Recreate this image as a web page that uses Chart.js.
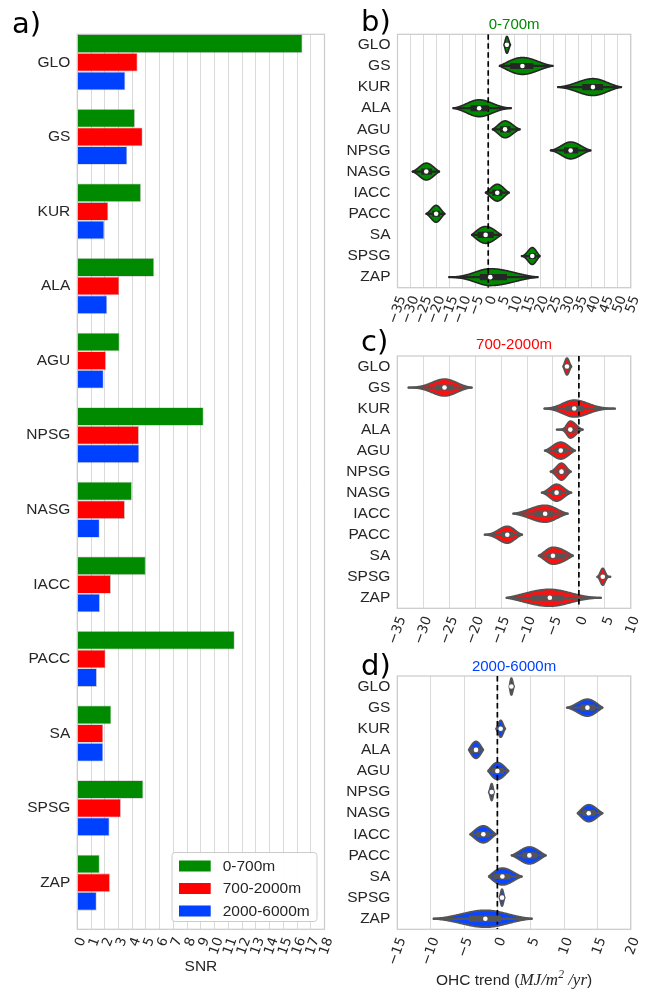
<!DOCTYPE html>
<html><head><meta charset="utf-8">
<script src="https://cdn.jsdelivr.net/npm/chart.js@4.4.0/dist/chart.umd.min.js"></script>
<style>
html,body{margin:0;padding:0;background:#fff;}
#wrap{position:relative;width:652px;height:991px;background:#fff;}
#wrap canvas{position:absolute;left:0;top:0;}
</style></head><body>
<div id="wrap">
<canvas id="ca" width="652" height="991"></canvas>
<canvas id="cb" width="652" height="991"></canvas>
<canvas id="cc" width="652" height="991"></canvas>
<canvas id="cd" width="652" height="991"></canvas>
</div>
<script>
// ---------------- DATA ----------------
const regions = ['GLO','GS','KUR','ALA','AGU','NPSG','NASG','IACC','PACC','SA','SPSG','ZAP'];
const layerNames = ['0-700m','700-2000m','2000-6000m'];

// panel a: SNR per region
const snr_0_700     = [16.4, 4.2, 4.64, 5.6, 3.08, 9.2, 3.98, 4.98, 11.46, 2.48, 4.81, 1.63];
const snr_700_2000  = [4.39, 4.76, 2.26, 3.06, 2.09, 4.49, 3.47, 2.45, 2.06, 1.89, 3.18, 2.38];
const snr_2000_6000 = [3.5, 3.64, 1.97, 2.18, 1.92, 4.51, 1.63, 1.65, 1.43, 1.89, 2.35, 1.41];
const snrTicks = [0,1,2,3,4,5,6,7,8,9,10,11,12,13,14,15,16,17,18];

// panel b: OHC trend 0-700m (violin summary: low end, Q1, median, Q3, high end)
const b_lo  = [6.1, 4.3, 26.8, -13.6, 1.6, 24.0, -29.3, -1.1, -24.0, -6.4, 12.8, -15.2];
const b_q1  = [6.7, 8.6, 36.4, -6.7, 4.7, 29.4, -25.7, 1.7, -21.4, -4.0, 15.9, -3.1];
const b_med = [7.2, 13.2, 40.4, -3.5, 6.5, 31.8, -23.9, 3.5, -20.1, -1.0, 17.0, 0.8];
const b_q3  = [7.7, 17.3, 44.2, -0.1, 8.5, 34.6, -21.8, 5.3, -18.8, 2.0, 18.2, 7.1];
const b_hi  = [8.6, 25.0, 51.4, 8.9, 12.3, 39.6, -18.8, 8.1, -16.7, 5.1, 20.0, 19.2];
const bTicks = [-35,-30,-25,-20,-15,-10,-5,0,5,10,15,20,25,30,35,40,45,50,55];

// panel c: OHC trend 700-2000m
const c_lo  = [-3.05, -32.9, -6.7, -4.3, -6.6, -5.5, -7.2, -12.7, -18.2, -7.8, 3.5, -14.0];
const c_q1  = [-2.6, -27.5, -2.4, -2.1, -4.6, -4.0, -5.2, -8.5, -14.9, -6.1, 4.3, -9.1];
const c_med = [-2.3, -25.9, -0.9, -1.65, -3.5, -3.35, -4.3, -6.5, -13.8, -5.0, 4.6, -5.6];
const c_q3  = [-2.0, -24.3, 0.9, -0.9, -2.4, -2.7, -3.35, -4.9, -12.8, -2.7, 4.9, -3.0];
const c_hi  = [-1.4, -20.6, 7.0, 0.8, -0.7, -1.5, -1.4, -2.1, -10.9, -1.1, 6.1, 4.3];
const cTicks = [-35,-30,-25,-20,-15,-10,-5,0,5,10];

// panel d: OHC trend 2000-6000m
const d_lo  = [1.8, 10.4, -0.2, -4.3, -1.4, -1.3, 12.0, -4.1, 2.1, -1.3, 0.3, -9.6];
const d_q1  = [1.95, 12.5, 0.25, -3.9, -0.85, -1.0, 12.8, -3.1, 3.8, -0.5, 0.55, -4.2];
const d_med = [2.1, 13.5, 0.5, -3.2, 0.0, -0.85, 13.7, -2.1, 4.8, 0.75, 0.7, -1.8];
const d_q3  = [2.25, 14.6, 0.75, -2.6, 0.95, -0.7, 14.6, -1.2, 5.9, 1.9, 0.85, 0.5];
const d_hi  = [2.5, 15.8, 1.2, -2.1, 1.7, -0.5, 15.8, -0.2, 7.3, 3.7, 1.1, 5.2];
const dTicks = [-15,-10,-5,0,5,10,15,20];

// ---------------- STYLE ----------------
const GREEN = '#008a00', RED = '#ff0000', BLUE = '#0040ff';
const TXT = '#262626';
const GRID = '#dadada';
const FRAME = '#cccccc';
const LABEL_FONT = {family: '"Liberation Sans", Arial, sans-serif', size: 15.5};
const TICK_FONT = {family: '"DejaVu Sans", sans-serif', size: 13.5};
const fmtMinus = v => String(v).replace('-', '\u2212');

function frameAndText(opts) {
  return {
    id: 'decor',
    beforeDatasetsDraw(chart) {
      const {ctx, chartArea: a} = chart;
      ctx.save();
      ctx.strokeStyle = FRAME; ctx.lineWidth = 1.25;
      ctx.strokeRect(a.left, a.top, a.right - a.left, a.bottom - a.top);
      ctx.restore();
    },
    afterDraw(chart) {
      const {ctx, chartArea: a} = chart;
      ctx.save();
      ctx.fillStyle = '#000';
      ctx.font = '29px "DejaVu Sans", sans-serif';
      ctx.textAlign = 'left'; ctx.textBaseline = 'alphabetic';
      ctx.fillText(opts.letter, opts.letterX, opts.letterY);
      if (opts.title) {
        ctx.fillStyle = opts.titleColor;
        ctx.font = '15px "Liberation Sans", Arial, sans-serif';
        ctx.textAlign = 'center';
        ctx.fillText(opts.title, (a.left + a.right) / 2, opts.titleY);
      }
      if (opts.extra) opts.extra(chart, ctx);
      ctx.restore();
    }
  };
}

// ---------------- PANEL A ----------------
const snrSeries = [snr_0_700, snr_700_2000, snr_2000_6000];
const snrColors = [GREEN, RED, BLUE];

function drawLegendA(chart, ctx) {
  const x0 = 172, y0 = 852.5, w = 145, h = 69;
  ctx.fillStyle = 'rgba(255,255,255,0.9)';
  ctx.strokeStyle = FRAME; ctx.lineWidth = 1;
  ctx.beginPath();
  if (ctx.roundRect) ctx.roundRect(x0, y0, w, h, 3); else ctx.rect(x0, y0, w, h);
  ctx.fill(); ctx.stroke();
  const rows = [866, 888.5, 911];
  ctx.font = '15.5px "Liberation Sans", Arial, sans-serif';
  ctx.textAlign = 'left'; ctx.textBaseline = 'middle';
  chart.data.datasets.forEach((ds, k) => {
    ctx.fillStyle = ds.backgroundColor;
    ctx.fillRect(179, rows[k] - 5.5, 31.7, 11);
    ctx.fillStyle = TXT;
    ctx.fillText(ds.label, 222.7, rows[k] + 0.5);
  });
}

new Chart(document.getElementById('ca'), {
  type: 'bar',
  data: {
    datasets: snrSeries.map((arr, k) => ({
      label: layerNames[k],
      data: regions.map((r, i) => ({x: arr[i], y: i})),
      backgroundColor: snrColors[k],
      borderColor: 'rgba(0,0,0,0.22)',
      borderWidth: 0.8,
      categoryPercentage: 0.75,
      barPercentage: 1.0
    }))
  },
  options: {
    indexAxis: 'y',
    responsive: false, animation: false, events: [],
    layout: {padding: {left: 0, top: 34.3, right: 327.5, bottom: 12}},
    plugins: {legend: {display: false}, tooltip: {enabled: false}},
    scales: {
      y: {
        type: 'linear', reverse: true, min: -0.375, max: 11.625, offset: false, bounds: 'data',
        afterBuildTicks: s => { s.ticks = regions.map((r, i) => ({value: i})); },
        afterFit: s => { s.width = 77.3; },
        grid: {display: false, offset: false, drawTicks: false}, border: {display: false},
        ticks: {color: TXT, font: LABEL_FONT, padding: 7, callback: v => regions[v]}
      },
      x: {
        type: 'linear', min: 0, max: 18, offset: false, bounds: 'data',
        afterBuildTicks: s => { s.ticks = snrTicks.map(v => ({value: v})); },
        afterFit: s => { s.height = 49.7; },
        grid: {color: GRID, lineWidth: 1, drawTicks: false}, border: {display: false},
        ticks: {color: TXT, font: TICK_FONT, padding: 6, labelOffset: 5, autoSkip: false,
                minRotation: 70, maxRotation: 70, callback: v => fmtMinus(v)},
        title: {display: true, text: 'SNR', color: TXT, font: LABEL_FONT, padding: {top: 0, bottom: 3}}
      }
    }
  },
  plugins: [frameAndText({letter: 'a)', letterX: 12, letterY: 33, extra: drawLegendA})]
});

// ---------------- VIOLIN PANELS ----------------
function halfWidth(v, lo, q1, med, q3, hi) {
  const left = v < med;
  const s = Math.max(1e-6, (left ? (med - q1) : (q3 - med)) / 0.6745);
  const end = left ? lo : hi;
  const g = z => Math.exp(-0.5 * z * z);
  const ge = g((end - med) / s);
  return Math.max(0, (g((v - med) / s) - ge) / (1 - ge));
}

function violinChart(id, S) {
  const violinLayer = {
    id: 'violinLayer',
    beforeDatasetsDraw(chart) {
      const {ctx, scales: {x, y}, chartArea: a} = chart;
      ctx.save();
      ctx.beginPath(); ctx.rect(a.left, a.top, a.right - a.left, a.bottom - a.top); ctx.clip();
      for (let i = 0; i < regions.length; i++) {
        const vals = [];
        const steps = 120;
        for (let k = 0; k <= steps; k++) vals.push(S.lo[i] + (S.hi[i] - S.lo[i]) * k / steps);
        vals.push(S.med[i]); vals.sort((p, q) => p - q);
        const up = [], dn = [];
        vals.forEach(v => {
          const w = 0.4 * halfWidth(v, S.lo[i], S.q1[i], S.med[i], S.q3[i], S.hi[i]);
          const px = x.getPixelForValue(v);
          up.push([px, y.getPixelForValue(i - w)]);
          dn.push([px, y.getPixelForValue(i + w)]);
        });
        ctx.beginPath();
        up.forEach((p, k) => k ? ctx.lineTo(p[0], p[1]) : ctx.moveTo(p[0], p[1]));
        for (let k = dn.length - 1; k >= 0; k--) ctx.lineTo(dn[k][0], dn[k][1]);
        ctx.closePath();
        ctx.fillStyle = S.fill; ctx.fill();
        ctx.lineWidth = S.lw; ctx.lineJoin = 'round'; ctx.strokeStyle = S.gray; ctx.stroke();
      }
      ctx.restore();
    }
  };
  return new Chart(document.getElementById(id), {
    type: 'scatter',
    data: {
      datasets: [
        {type: 'scatter', label: 'median', order: 0,
         data: regions.map((r, i) => ({x: S.med[i], y: i})),
         pointRadius: 2.3, pointBackgroundColor: '#ffffff', pointBorderWidth: 0},
        {type: 'bar', label: 'IQR', order: 1, indexAxis: 'y', grouped: false,
         data: regions.map((r, i) => ({x: [S.q1[i], S.q3[i]], y: i})),
         backgroundColor: S.gray, barThickness: 5.5, borderWidth: 0},
        {type: 'bar', label: 'range', order: 2, indexAxis: 'y', grouped: false,
         data: regions.map((r, i) => ({x: [S.lo[i], S.hi[i]], y: i})),
         backgroundColor: S.gray, barThickness: 1.6, borderWidth: 0},
        {type: 'line', label: 'zero', order: 3,
         data: [{x: 0, y: -0.5}, {x: 0, y: 11.5}],
         borderColor: '#000', borderWidth: 1.7, borderDash: [5.5, 3.5], pointRadius: 0, fill: false}
      ]
    },
    options: {
      responsive: false, animation: false, events: [],
      layout: {padding: S.pad},
      plugins: {legend: {display: false}, tooltip: {enabled: false}},
      scales: {
        y: {
          type: 'linear', reverse: true, min: -0.5, max: 11.5, offset: false, bounds: 'data',
          afterBuildTicks: s => { s.ticks = regions.map((r, i) => ({value: i})); },
          afterFit: s => { s.width = S.yWidth; },
          grid: {display: false, offset: false, drawTicks: false}, border: {display: false},
          ticks: {color: TXT, font: LABEL_FONT, padding: 7, callback: v => regions[v]}
        },
        x: {
          type: 'linear', min: S.ticks[0], max: S.ticks[S.ticks.length - 1], offset: false, bounds: 'data',
          afterBuildTicks: s => { s.ticks = S.ticks.map(v => ({value: v})); },
          afterFit: s => { s.height = 45; },
          grid: {color: GRID, lineWidth: 1, drawTicks: false}, border: {display: false},
          ticks: {color: TXT, font: TICK_FONT, padding: 6, labelOffset: 5, autoSkip: false,
                  minRotation: 70, maxRotation: 70, callback: v => fmtMinus(v)}
        }
      }
    },
    plugins: [violinLayer, frameAndText(S.decor)]
  });
}

violinChart('cb', {
  lo: b_lo, q1: b_q1, med: b_med, q3: b_q3, hi: b_hi, ticks: bTicks,
  fill: GREEN, gray: '#262626', lw: 1.6, yWidth: 57.5,
  pad: {left: 340, top: 34.3, right: 6, bottom: 658.3},
  decor: {letter: 'b)', letterX: 361, letterY: 31, title: layerNames[0], titleColor: GREEN, titleY: 28.5}
});

violinChart('cc', {
  lo: c_lo, q1: c_q1, med: c_med, q3: c_q3, hi: c_hi, ticks: cTicks,
  fill: '#ff1010', gray: '#555555', lw: 1.8, yWidth: 57.3,
  pad: {left: 340, top: 356, right: 7, bottom: 337.7},
  decor: {letter: 'c)', letterX: 361, letterY: 351, title: layerNames[1], titleColor: RED, titleY: 349}
});

function drawOhcTitle(chart, ctx) {
  const a = chart.chartArea;
  const sans = '15.5px "Liberation Sans", Arial, sans-serif';
  const it = 'italic 17px "Liberation Serif", "DejaVu Serif", serif';
  const sup = 'italic 11.5px "Liberation Serif", "DejaVu Serif", serif';
  const parts = [
    {t: 'OHC trend (', f: sans, dy: 0},
    {t: 'MJ/m', f: it, dy: 0},
    {t: '2', f: sup, dy: -7},
    {t: ' /yr', f: it, dy: 0},
    {t: ')', f: sans, dy: 0}
  ];
  let total = 0;
  parts.forEach(p => { ctx.font = p.f; p.w = ctx.measureText(p.t).width; total += p.w; });
  let x = (a.left + a.right) / 2 - total / 2;
  const base = 985;
  ctx.fillStyle = TXT; ctx.textAlign = 'left'; ctx.textBaseline = 'alphabetic';
  parts.forEach(p => { ctx.font = p.f; ctx.fillText(p.t, x, base + p.dy); x += p.w; });
}

violinChart('cd', {
  lo: d_lo, q1: d_q1, med: d_med, q3: d_q3, hi: d_hi, ticks: dTicks,
  fill: '#0a45ff', gray: '#555555', lw: 1.8, yWidth: 57.3,
  pad: {left: 340, top: 676, right: 7, bottom: 16.7},
  decor: {letter: 'd)', letterX: 361, letterY: 675, title: layerNames[2], titleColor: BLUE, titleY: 671, extra: drawOhcTitle}
});
</script>
</body></html>
